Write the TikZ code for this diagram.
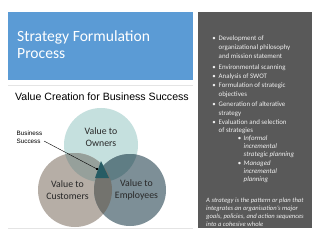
\documentclass[tikz,border=0pt]{standalone}
\usepackage{fontspec}
\setmainfont{Carlito}
\newfontfamily\arialf{Liberation Sans}
\definecolor{titleblue}{RGB}{91,155,213}
\definecolor{panelgray}{RGB}{89,89,89}
\definecolor{paneltext}{RGB}{240,240,240}
\definecolor{cOwn}{RGB}{197,224,222}
\definecolor{cCus}{RGB}{182,174,166}
\definecolor{cEmp}{RGB}{125,143,151}
\definecolor{cOC}{RGB}{150,160,155}
\definecolor{cOE}{RGB}{95,125,132}
\definecolor{cCE}{RGB}{115,115,110}
\definecolor{cCore}{RGB}{38,92,100}
\definecolor{vtext}{RGB}{40,40,40}
\definecolor{rule}{RGB}{228,228,228}
\tikzset{
  ptext/.style={anchor=mid west,inner sep=0pt,text=paneltext,font=\fontsize{6.9}{8}\selectfont},
  pital/.style={ptext,font=\fontsize{6.6}{8}\selectfont\itshape},
  bul/.style={anchor=mid,inner sep=0pt,text=paneltext,font=\fontsize{6.9}{8}\selectfont},
  vlabel/.style={align=center,inner sep=0pt,text=vtext,font=\fontsize{9.8}{11.5}\selectfont},
}
\begin{document}
\begin{tikzpicture}[x=1pt,y=-1pt]
\useasboundingbox (0,0) rectangle (320,240);
\fill[white] (0,0) rectangle (320,240);
% title box
\fill[titleblue] (8,12) rectangle (193,80);
\node[anchor=base west,inner sep=0pt,text=white,font=\fontsize{15.6}{17}\selectfont] (t1) at (17,42) {Strategy Formulation};
\node[anchor=base west,inner sep=0pt,text=white,font=\fontsize{15.6}{17}\selectfont] (t2) at (17,59) {Process};
\draw[rule,line width=0.8pt] (8,85.5) -- (193,85.5);
\draw[rule,line width=0.8pt] (8,228) -- (193,228);
\node[anchor=base west,inner sep=0pt,font=\arialf\fontsize{10.6}{10}\selectfont] (vc) at (15,100.5) {Value Creation for Business Success};
% venn
\coordinate (o) at (101,145);
\coordinate (c) at (75,190);
\coordinate (e) at (130,190);
\fill[cOwn] (o) circle (37);
\fill[cCus] (c) circle (37);
\fill[cEmp] (e) circle (36);
\begin{scope}
  \clip (o) circle (37);
  \fill[cOC] (c) circle (37);
  \fill[cOE] (e) circle (36);
\end{scope}
\begin{scope}
  \clip (c) circle (37);
  \fill[cCE] (e) circle (36);
\end{scope}
\coordinate (ta) at (101,161);
\coordinate (tb) at (95,178);
\coordinate (tc) at (109,178);
\fill[cCore] (ta) -- (tb) -- (tc) -- cycle;
\node[vlabel] (lo) at (101,137) {Value to\\Owners};
\node[vlabel] (lc) at (67.5,190) {Value to\\Customers};
\node[vlabel] (le) at (136.5,190) {Value to\\Employees};
\node[anchor=north west,align=left,inner sep=0pt,font=\arialf\fontsize{6.3}{8}\selectfont] (bs) at (16.5,131) {Business\\Success};
\coordinate (bsend) at (44,141);
\coordinate (pt) at (97,169);
\draw[black,line width=0.4pt] (bsend) -- (pt);
\fill[black] (pt) ++(-0.8,-0.8) rectangle ++(1.6,1.6);
% right panel
\fill[panelgray] (198,12) rectangle (312,228);
\foreach \y in {38,67,76,85,104,122}{
  \node[bul] at (214,\y) {•};
}
\foreach \y in {138,163}{
  \node[bul] at (239.5,\y) {•};
}
\foreach \y/\t [count=\i] in {38/Development of,47/organizational philosophy,56/and mission statement,67/Environmental scanning,76/Analysis of SWOT,85/Formulation of strategic,94/objectives,104/Generation of alterative,113/strategy,122/Evaluation and selection,130.5/of strategies}{
  \node[ptext] (r\i) at (218.5,\y) {\t};
}
\foreach \y/\t [count=\i] in {138/Informal /,146/incremental,154.5/strategic planning,163/Managed/logical,171/incremental,179.5/planning}{
  \node[ptext,font=\fontsize{6.9}{8}\selectfont\itshape] (s\i) at (243.5,\y) {\t};
}
\foreach \y/\t [count=\i] in {200/A strategy is the pattern or plan that,208/integrates an organisation's major,216/{goals, policies, and action sequences},224/into a cohesive whole}{
  \node[pital] (p\i) at (206,\y) {\t};
}
\end{tikzpicture}
\end{document}
